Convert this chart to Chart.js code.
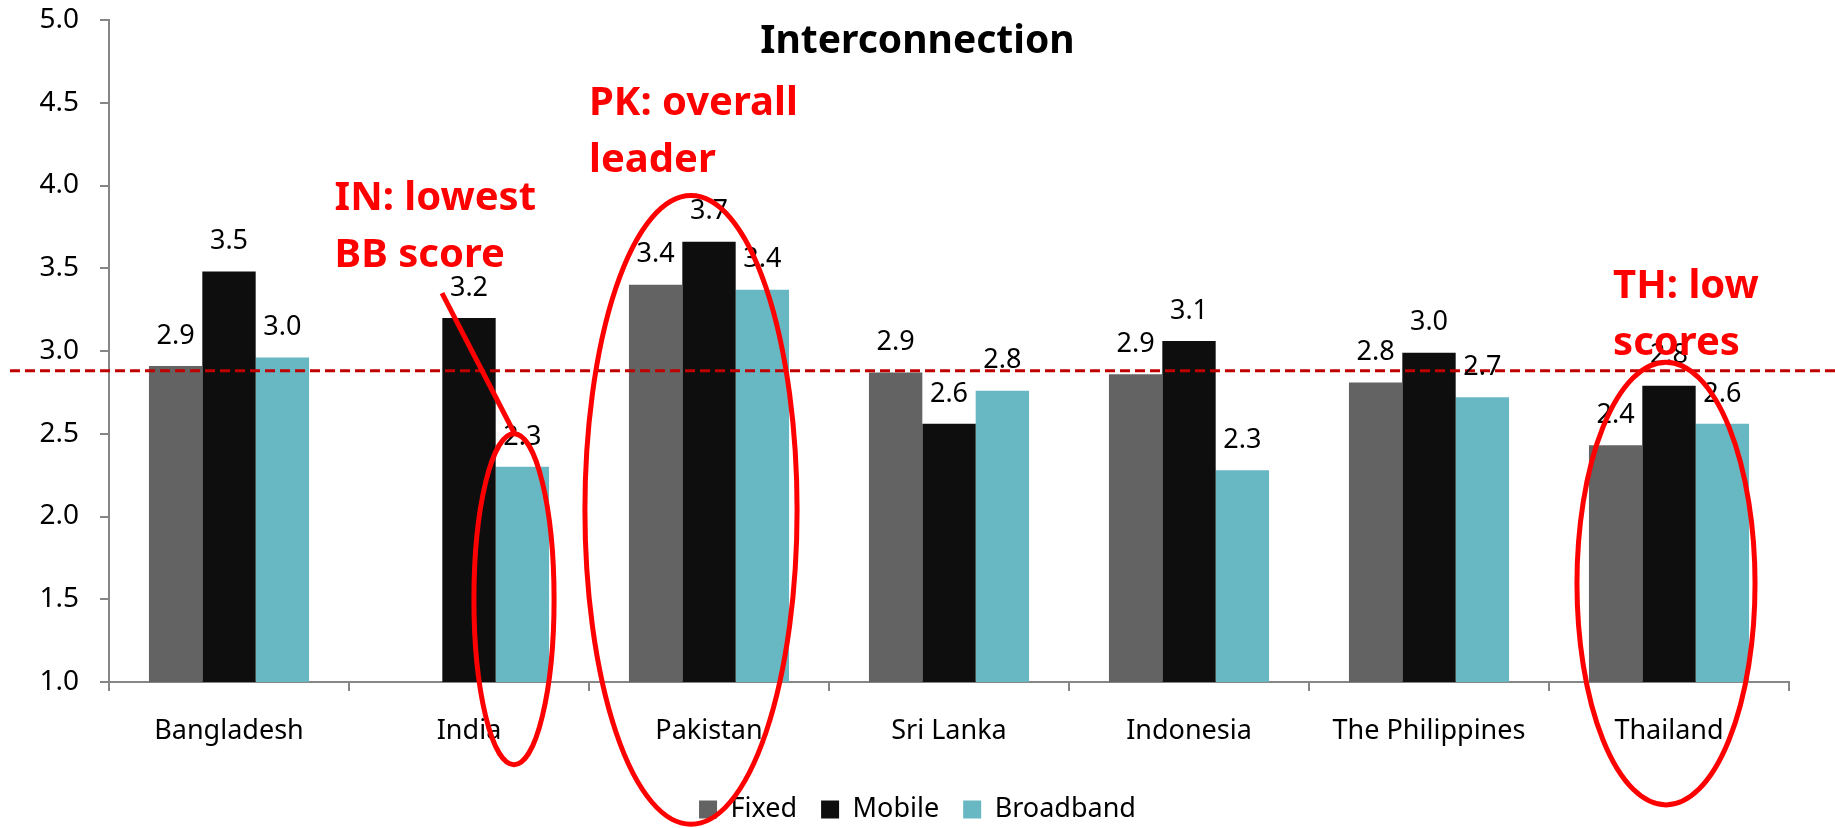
<!DOCTYPE html>
<html>
<head>
<meta charset="utf-8">
<title>Interconnection</title>
<script src="https://cdn.jsdelivr.net/npm/chart.js@4.4.1/dist/chart.umd.min.js"></script>
<style>
  html, body { margin: 0; padding: 0; background: #ffffff; }
  #wrap { width: 1835px; height: 828px; }
</style>
</head>
<body>
<div id="wrap"><canvas id="chart" width="1835" height="828"></canvas></div>
<script>
// chart data
const countries = ["Bangladesh", "India", "Pakistan", "Sri Lanka", "Indonesia", "The Philippines", "Thailand"];
const fixedScores = [2.91, null, 3.40, 2.87, 2.86, 2.81, 2.43];
const mobileScores = [3.48, 3.20, 3.66, 2.56, 3.06, 2.99, 2.79];
const broadbandScores = [2.96, 2.30, 3.37, 2.76, 2.28, 2.72, 2.56];
const regionAverage = 2.88;
const yTicks = [1.0, 1.5, 2.0, 2.5, 3.0, 3.5, 4.0, 4.5, 5.0];

// red call-outs, anchored to category index and score value
const noteTexts = [
  { lines: ["IN: lowest", "BB score"], cat: 0.44, values: [3.85, 3.506] },
  { lines: ["PK: overall", "leader"], cat: 1.5, values: [4.424, 4.08] },
  { lines: ["TH: low", "scores"], cat: 5.767, values: [3.319, 2.975] }
];
const noteEllipses = [
  { cat: 1.1875, value: 1.50, rCat: 0.167, rValue: 1.0 },
  { cat: 1.925, value: 2.04, rCat: 0.442, rValue: 1.90 },
  { cat: 5.9875, value: 1.595, rCat: 0.371, rValue: 1.3375 }
];
const notePointer = { from: [0.8875, 3.35], to: [1.19, 2.50] };

Chart.defaults.font.family = "'Noto Sans', sans-serif";
Chart.defaults.color = "#000000";

const fontFamily = "'Noto Sans', sans-serif";

// helpers to turn category/value into pixels
function catX(chart, c) {
  const xs = chart.scales.x;
  return xs.left + (c + 0.5) * xs.width / countries.length;
}
function valY(chart, v) {
  return chart.scales.y.getPixelForValue(v);
}

// centre the legend on the whole canvas and nudge it down a bit
const legendPlace = {
  id: "legendPlace",
  afterLayout(chart) {
    const lg = chart.legend;
    if (!lg) return;
    lg.left = 0;
    lg.right = chart.width;
    lg.width = chart.width;
    lg.top += 5;
    lg.bottom += 5;
  }
};

const averageLine = {
  id: "averageLine",
  afterDatasetsDraw(chart) {
    const ctx = chart.ctx;
    const y = valY(chart, regionAverage);
    ctx.save();
    ctx.strokeStyle = "#C00000";
    ctx.lineWidth = 3;
    ctx.setLineDash([10, 5]);
    ctx.beginPath();
    ctx.moveTo(10, y);
    ctx.lineTo(chart.width, y);
    ctx.stroke();
    ctx.restore();
  }
};

const valueLabels = {
  id: "valueLabels",
  afterDatasetsDraw(chart) {
    const ctx = chart.ctx;
    ctx.save();
    ctx.font = "27px " + fontFamily;
    ctx.fillStyle = "#000000";
    ctx.textAlign = "center";
    ctx.textBaseline = "middle";
    chart.data.datasets.forEach((ds, i) => {
      const meta = chart.getDatasetMeta(i);
      meta.data.forEach((bar, j) => {
        const v = ds.data[j];
        if (v == null) return;
        ctx.fillText(v.toFixed(1), bar.x, bar.y - 30);
      });
    });
    ctx.restore();
  }
};

const callouts = {
  id: "callouts",
  afterDraw(chart) {
    const ctx = chart.ctx;
    ctx.save();

    // title
    ctx.font = "bold 39px " + fontFamily;
    ctx.fillStyle = "#000000";
    ctx.textAlign = "center";
    ctx.textBaseline = "alphabetic";
    ctx.fillText("Interconnection", chart.width / 2, 53);

    // red texts
    ctx.font = "bold 40px " + fontFamily;
    ctx.fillStyle = "#FF0000";
    ctx.textAlign = "left";
    noteTexts.forEach((n) => {
      n.lines.forEach((line, k) => {
        ctx.fillText(line, catX(chart, n.cat), valY(chart, n.values[k]));
      });
    });

    // ellipses
    ctx.strokeStyle = "#FF0000";
    ctx.lineWidth = 5;
    const unit = valY(chart, 0) - valY(chart, 1);
    const catW = chart.scales.x.width / countries.length;
    noteEllipses.forEach((e) => {
      ctx.beginPath();
      ctx.ellipse(catX(chart, e.cat), valY(chart, e.value), e.rCat * catW, e.rValue * unit, 0, 0, Math.PI * 2);
      ctx.stroke();
    });

    // pointer line
    ctx.beginPath();
    ctx.moveTo(catX(chart, notePointer.from[0]), valY(chart, notePointer.from[1]));
    ctx.lineTo(catX(chart, notePointer.to[0]), valY(chart, notePointer.to[1]));
    ctx.stroke();

    ctx.restore();
  }
};

const config = {
  type: "bar",
  data: {
    labels: countries,
    datasets: [
      { label: "Fixed", data: fixedScores, backgroundColor: "#636363" },
      { label: "Mobile", data: mobileScores, backgroundColor: "#0E0E0E" },
      { label: "Broadband", data: broadbandScores, backgroundColor: "#68B8C4" }
    ]
  },
  options: {
    responsive: false,
    animation: false,
    layout: { padding: { left: 0, right: 46, top: 20, bottom: 0 } },
    datasets: {
      bar: { categoryPercentage: 0.667, barPercentage: 1.0, borderWidth: 0 }
    },
    scales: {
      x: {
        grid: { drawOnChartArea: false, drawTicks: true, tickLength: 9, color: "#868686", lineWidth: 2, offset: true },
        border: { color: "#868686", width: 2 },
        ticks: { font: { size: 27 }, padding: 24, color: "#000000", maxRotation: 0 },
        afterFit(scale) {
          const legendH = scale.chart.legend ? scale.chart.legend.height : 0;
          scale.height = 828 - 682 - legendH;
        }
      },
      y: {
        min: 1,
        max: 5,
        afterBuildTicks(scale) {
          scale.ticks = yTicks.map((v) => ({ value: v }));
        },
        grid: { drawOnChartArea: false, drawTicks: true, tickLength: 9, color: "#868686", lineWidth: 2 },
        border: { color: "#868686", width: 2 },
        ticks: {
          font: { size: 28 },
          padding: 21,
          color: "#000000",
          callback: (v) => Number(v).toFixed(1)
        },
        afterFit(scale) {
          scale.width = 109;
          scale.paddingTop = 0;
          scale.paddingBottom = 0;
        }
      }
    },
    plugins: {
      legend: {
        position: "bottom",
        labels: { boxWidth: 18, boxHeight: 18, font: { size: 27 }, padding: 24, color: "#000000" }
      },
      title: { display: false },
      tooltip: { enabled: false }
    }
  },
  plugins: [legendPlace, averageLine, valueLabels, callouts]
};

const myChart = new Chart(document.getElementById("chart"), config);
</script>
</body>
</html>
